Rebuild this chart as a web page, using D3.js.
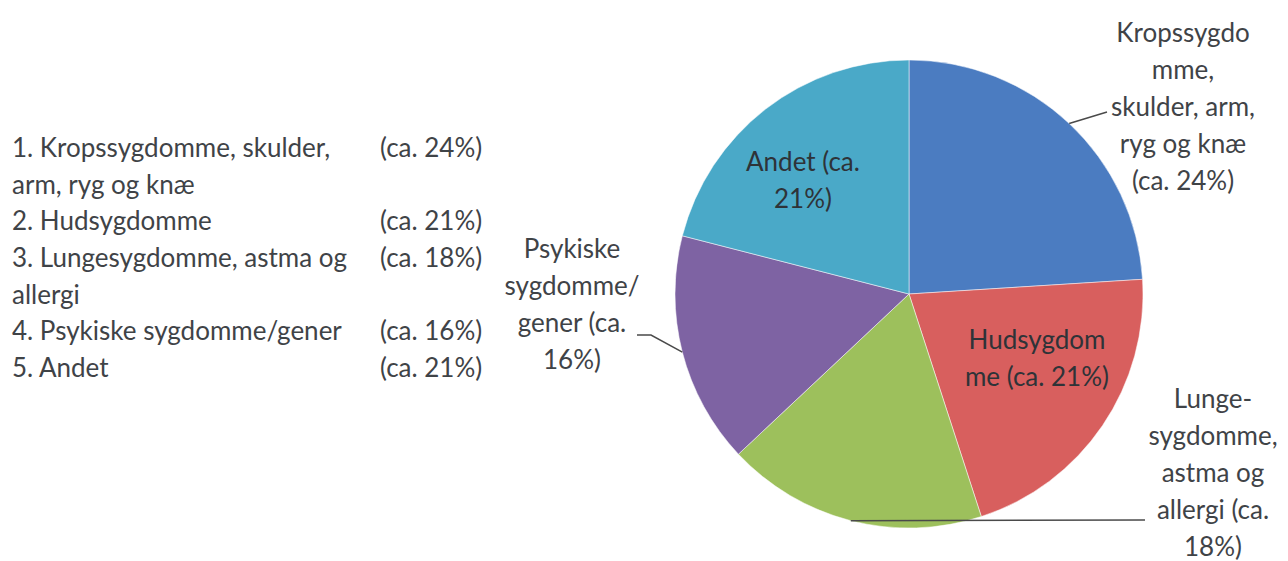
<!DOCTYPE html>
<html>
<head>
    <meta charset="utf-8">
    <script src="https://d3js.org/d3.v7.min.js"></script>
    <style>
        body { margin: 0; background: #fff; overflow: hidden; }
        svg text { font-family: Lato, "Open Sans", sans-serif; fill: #3f4347; }
    </style>
</head>
<body>
    <div id="chart"></div>
    <script>
        // data
        var categories = ["Kropssygdomme, skulder, arm, ryg og knæ", "Hudsygdomme", "Lungesygdomme, astma og allergi", "Psykiske sygdomme/gener", "Andet"];
        var values = [24, 21, 18, 16, 21];
        var colors = ["#4b7cc1", "#d85f5e", "#9dc05c", "#7e63a3", "#4aa9c8"];

        // slice labels, already wrapped like in the original
        var sliceLabels = [
            ["Kropssygdo", "mme,", "skulder, arm,", "ryg og knæ", "(ca. 24%)"],
            ["Hudsygdom", "me (ca. 21%)"],
            ["Lunge-", "sygdomme,", "astma og", "allergi (ca.", "18%)"],
            ["Psykiske", "sygdomme/", "gener (ca.", "16%)"],
            ["Andet (ca.", "21%)"]
        ];

        // legend list on the left
        var legendLines = [
            ["1. Kropssygdomme, skulder,", "arm, ryg og knæ"],
            ["2. Hudsygdomme"],
            ["3. Lungesygdomme, astma og", "allergi"],
            ["4. Psykiske sygdomme/gener"],
            ["5. Andet"]
        ];

        var width = 1288, height = 561;
        var cx = 909, cy = 294, radius = 234;
        var lineH = 37;
        var fontSize = 26;

        var svg = d3.select("#chart").append("svg")
            .attr("width", width).attr("height", height);

        var pie = d3.pie().sort(null).value(d => d);
        var arcs = pie(values);
        var arc = d3.arc().innerRadius(0).outerRadius(radius);

        var g = svg.append("g").attr("transform", `translate(${cx},${cy})`);

        g.selectAll("path.slice")
            .data(arcs)
            .enter().append("path")
            .attr("class", "slice")
            .attr("d", arc)
            .attr("fill", (d, i) => colors[i])
            .attr("stroke", "#ffffff")
            .attr("stroke-opacity", 0.5)
            .attr("stroke-width", 1);

        // label placement (centre of text block) and leader end points, relative to pie centre
        var labelPos = [
            { x: 274, y: -187, inside: false, lead: [[198, -182]] },
            { x: 128, y: 64, inside: true },
            { x: 304, y: 179, inside: false, lead: [[236, 226]] },
            { x: -337, y: 10, inside: false, lead: [[-258, 41], [-272, 41]] },
            { x: -106, y: -114, inside: true }
        ];

        function midPoint(d) {
            var a = (d.startAngle + d.endAngle) / 2;
            return [radius * Math.sin(a), -radius * Math.cos(a)];
        }

        // leader lines
        arcs.forEach((d, i) => {
            var p = labelPos[i];
            if (!p.lead) return;
            var pts = [midPoint(d)].concat(p.lead);
            g.append("path")
                .attr("d", d3.line()(pts))
                .attr("fill", "none")
                .attr("stroke", "#4a4a4a")
                .attr("stroke-width", 1.5);
        });

        // slice labels
        arcs.forEach((d, i) => {
            var p = labelPos[i];
            var lines = sliceLabels[i];
            var t = g.append("text")
                .attr("text-anchor", "middle")
                .attr("font-size", fontSize)
                .style("fill", p.inside ? "#2e3338" : "#3f4347");
            lines.forEach((s, k) => {
                t.append("tspan")
                    .attr("x", p.x)
                    .attr("y", p.y + (k - (lines.length - 1) / 2) * lineH)
                    .attr("dy", "0.35em")
                    .text(s);
            });
        });

        // legend
        var leg = svg.append("g");
        var row = 0;
        legendLines.forEach((lines, i) => {
            lines.forEach((s, k) => {
                leg.append("text")
                    .attr("x", 12)
                    .attr("y", 148 + (row + k) * 36.6)
                    .attr("dy", "0.35em")
                    .attr("font-size", fontSize)
                    .text(s);
            });
            leg.append("text")
                .attr("x", 380)
                .attr("y", 148 + row * 36.6)
                .attr("dy", "0.35em")
                .attr("font-size", fontSize)
                .text(`(ca. ${values[i]}%)`);
            row += lines.length;
        });
    </script>
</body>
</html>
